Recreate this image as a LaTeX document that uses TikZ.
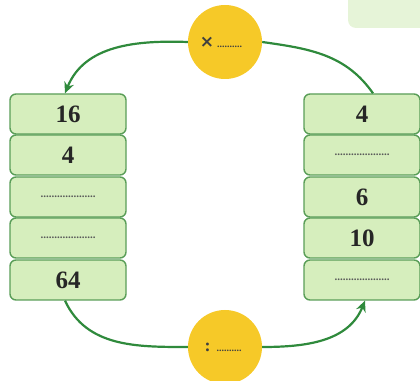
\documentclass[tikz,border=0pt]{standalone}
\usepackage{fontspec}
\setmainfont{Liberation Serif}
\newfontfamily\symfont{DejaVu Sans}
\usetikzlibrary{arrows.meta,calc}
\definecolor{boxfill}{HTML}{D6EEBD}
\definecolor{boxdraw}{HTML}{5A9E58}
\definecolor{arrowgreen}{HTML}{2F8A3C}
\definecolor{sun}{HTML}{F6C928}
\definecolor{pale}{HTML}{E6F4D8}
\tikzset{
  cell/.style={draw=boxdraw, fill=boxfill, line width=1.4pt, rounded corners=6pt,
    minimum width=116pt, minimum height=40pt, inner sep=0pt,
    font=\fontsize{25}{26}\selectfont\bfseries, text=black!85},
  op/.style={circle, fill=sun, minimum size=74pt, inner sep=0pt,
    font=\fontsize{18}{18}\selectfont\bfseries, text=black!75},
  link/.style={draw=arrowgreen, line width=2.2pt},
  tip/.style={-{Stealth[length=11pt,width=10pt]}},
}
\newcommand{\blank}{{\fontsize{11}{11}\selectfont\bfseries\color{black!65}....................}}
\newcommand{\sblank}{{\fontsize{10}{10}\selectfont\bfseries ..........}}
\begin{document}
\begin{tikzpicture}[x=1pt,y=1pt]
\useasboundingbox (0,0) rectangle (420,380);
\fill[pale, rounded corners=8pt] (348,352) rectangle (440,400);
\node[op] (c1) at (225,338) {\hspace*{-8pt}{\symfont\fontsize{17}{17}\selectfont\bfseries ×}\,\sblank};
\node[op] (c2) at (225,33) {\hspace*{-4pt}:\,\,\sblank};
\node[cell] (L1) at (68,266) {16};
\node[cell] (L2) at (68,225) {4};
\node[cell] (L3) at (68,183) {\blank};
\node[cell] (L4) at (68,142) {\blank};
\node[cell] (L5) at (68,100) {64};
\node[cell] (R1) at (362,266) {4};
\node[cell] (R2) at (362,225) {\blank};
\node[cell] (R3) at (362,183) {6};
\node[cell] (R4) at (362,142) {10};
\node[cell] (R5) at (362,100) {\blank};
\draw[link,tip] (c1.west) to[out=178,in=68] ($(L1.north)+(-3,0)$);
\draw[link] ($(R1.north)+(11,0)$) to[out=125,in=-8] (c1.east);
\draw[link] ($(L5.south)+(-3,0)$) to[out=-65,in=180] (c2.west);
\draw[link,tip] (c2.east) to[out=0,in=-112] ($(R5.south)+(3,0)$);
\end{tikzpicture}
\end{document}
